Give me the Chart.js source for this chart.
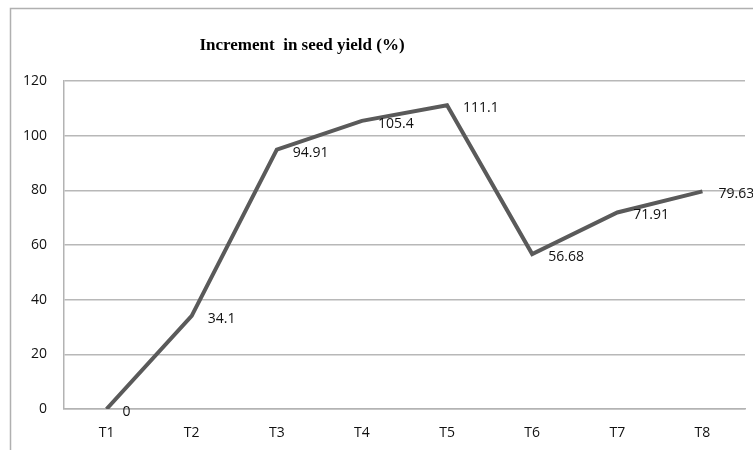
<!DOCTYPE html>
<html>
<head>
<meta charset="utf-8">
<script src="https://cdn.jsdelivr.net/npm/chart.js@4.4.1/dist/chart.umd.min.js"></script>
<style>
  html, body { margin: 0; padding: 0; background: #fff; }
  #caja { width: 753px; height: 450px; position: relative; }
</style>
</head>
<body>
<div id="caja"><canvas id="myChart"></canvas></div>
<script>
const tratamientos = ["T1", "T2", "T3", "T4", "T5", "T6", "T7", "T8"];
const incremento = [0, 34.1, 94.91, 105.4, 111.1, 56.68, 71.91, 79.63];
const etiquetas = ["0", "34.1", "94.91", "105.4", "111.1", "56.68", "71.91", "79.63"];
const titulo = "Increment  in seed yield (%)";

// marco exterior y titulo
const marco = {
  id: "marco",
  beforeDraw(chart) {
    const ctx = chart.ctx;
    ctx.save();
    ctx.strokeStyle = "#b0b0b0";
    ctx.lineWidth = 1.5;
    ctx.strokeRect(10.5, 8.5, 800, 500);
    ctx.fillStyle = "#000";
    ctx.font = "bold 17px 'Liberation Serif'";
    ctx.textAlign = "center";
    ctx.textBaseline = "middle";
    ctx.fillText(titulo, 302, 46);
    ctx.restore();
  }
};

// etiquetas de datos a la derecha de cada punto
const valores = {
  id: "valores",
  afterDatasetsDraw(chart) {
    const ctx = chart.ctx;
    const meta = chart.getDatasetMeta(0);
    ctx.save();
    ctx.fillStyle = "#111";
    ctx.font = "14px 'Open Sans'";
    ctx.textAlign = "left";
    ctx.textBaseline = "middle";
    meta.data.forEach((p, i) => {
      ctx.fillText(etiquetas[i], p.x + 16, p.y + 3);
    });
    ctx.restore();
  }
};

new Chart(document.getElementById("myChart").getContext("2d"), {
  type: "line",
  data: {
    labels: tratamientos,
    datasets: [{
      data: incremento,
      borderColor: "#5a5a5a",
      borderWidth: 4,
      pointRadius: 0,
      tension: 0,
      fill: false
    }]
  },
  options: {
    responsive: true,
    maintainAspectRatio: false,
    animation: false,
    layout: { padding: { top: 81, right: 8, left: 0, bottom: 0 } },
    plugins: { legend: { display: false }, tooltip: { enabled: false }, title: { display: false } },
    scales: {
      x: {
        offset: true,
        grid: { display: false },
        border: { display: true, color: "#b3b3b3", width: 1.5 },
        ticks: { color: "#111", font: { family: "'Open Sans'", size: 14 }, padding: 8 },
        afterFit(scale) { scale.height = 41; }
      },
      y: {
        min: 0,
        max: 120,
        grid: { color: "#b8b8b8", lineWidth: 1.5, drawTicks: false },
        border: { display: true, color: "#b3b3b3", width: 1.5 },
        ticks: { stepSize: 20, color: "#111", font: { family: "'Open Sans'", size: 14 }, padding: 17 },
        afterFit(scale) { scale.width = 64; }
      }
    }
  },
  plugins: [marco, valores]
});
</script>
</body>
</html>
